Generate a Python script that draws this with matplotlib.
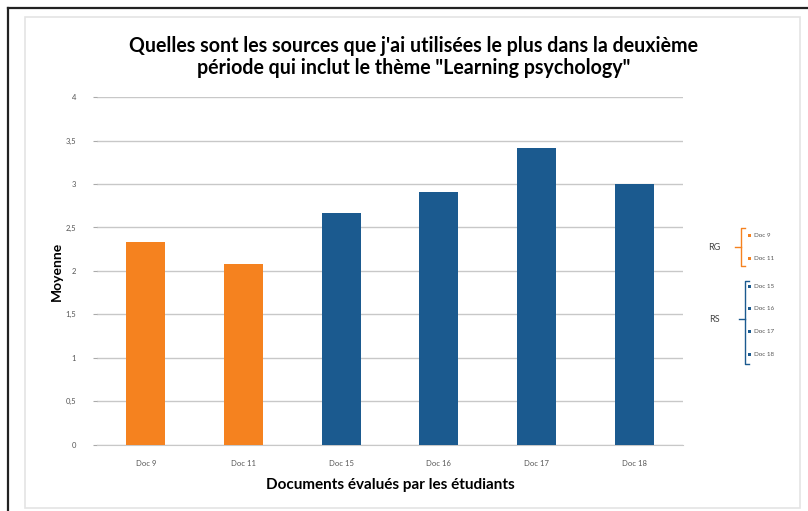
import numpy as np
import matplotlib.pyplot as plt
from matplotlib.patches import Rectangle

plt.rcParams['font.family'] = ['Lato', 'DejaVu Sans']

docs = ['Doc 9', 'Doc 11', 'Doc 15', 'Doc 16', 'Doc 17', 'Doc 18']
moyennes = [2.33, 2.08, 2.67, 2.91, 3.42, 3.00]
groupe = ['RG', 'RG', 'RS', 'RS', 'RS', 'RS']
yticks = [0, 0.5, 1, 1.5, 2, 2.5, 3, 3.5, 4]
ytick_labels = ['0', '0,5', '1', '1,5', '2', '2,5', '3', '3,5', '4']

couleurs = {'RG': '#f5821f', 'RS': '#1b5a8f'}

fig = plt.figure(figsize=(8.08, 5.11), dpi=100)

# cadre noir en haut / a gauche, puis fond du graphique
fig.add_artist(plt.Line2D([8 / 808, 8 / 808], [0, 1 - 8 / 511], color='#222222', lw=1.6))
fig.add_artist(plt.Line2D([8 / 808, 1], [1 - 8 / 511, 1 - 8 / 511], color='#222222', lw=1.6))
fig.add_artist(Rectangle((25 / 808, 3 / 511), 775 / 808, 491 / 511,
                         facecolor='white', edgecolor='#e4e4e4', lw=1.2, zorder=-5))

ax = fig.add_axes([97 / 808, 66.3 / 511, 586 / 808, 347.6 / 511])
ax.patch.set_alpha(0)
x = np.arange(len(docs))
ax.bar(x, moyennes, width=0.4, color=[couleurs[g] for g in groupe], zorder=3)

ax.set_ylim(0, 4)
ax.set_xlim(-0.5, len(docs) - 0.5)
ax.set_yticks(yticks)
ax.set_yticklabels(ytick_labels, fontsize=5.5, color='#555555')
ax.set_xticks(x)
ax.set_xticklabels(docs, fontsize=5.5, color='#555555')
ax.tick_params(axis='y', length=3, color='#aaaaaa', pad=12)
ax.tick_params(axis='x', length=0, pad=11)
ax.grid(axis='y', color='#c8c8c8', lw=1, zorder=0)
for s in ['top', 'right', 'left']:
    ax.spines[s].set_visible(False)
ax.spines['bottom'].set_color('#c8c8c8')

ax.set_ylabel('Moyenne', fontsize=10, fontweight='bold', labelpad=2)
ax.set_xlabel('Documents évalués par les étudiants', fontsize=11,
              fontweight='bold', labelpad=8)

fig.text(0.512, 1 - 57 / 511,
         'Quelles sont les sources que j\'ai utilisées le plus dans la deuxième\n'
         'période qui inclut le thème "Learning psychology"',
         ha='center', va='center', fontsize=14.1, fontweight='bold',
         linespacing=1.1)

# legende groupee a droite
def fy(py):
    return 1 - py / 511

def fx(px):
    return px / 808

groupes = [('RG', 247, 228, 266, 741, [235, 258]),
           ('RS', 319, 281, 364, 745, [286, 308, 331, 354])]
noms = {'RG': [d for d, g in zip(docs, groupe) if g == 'RG'],
        'RS': [d for d, g in zip(docs, groupe) if g == 'RS']}
for nom, ylab, y0, y1, xb, ys in groupes:
    c = couleurs[nom]
    fig.text(fx(714), fy(ylab), nom, fontsize=6.5, color='#444444',
             ha='center', va='center')
    fig.add_artist(plt.Line2D([fx(xb + 4), fx(xb), fx(xb), fx(xb + 4)],
                              [fy(y0), fy(y0), fy(y1), fy(y1)], color=c, lw=1))
    fig.add_artist(plt.Line2D([fx(xb - 6), fx(xb)], [fy(ylab), fy(ylab)],
                              color=c, lw=1))
    for yy, d in zip(ys, noms[nom]):
        fig.add_artist(Rectangle((fx(748), fy(yy) - 1.5 / 511), 3 / 808, 3 / 511,
                                 facecolor=c, edgecolor='none'))
        fig.text(fx(754), fy(yy), d, fontsize=4.5, color='#555555',
                 ha='left', va='center')

fig.savefig('out.png', dpi=100)
